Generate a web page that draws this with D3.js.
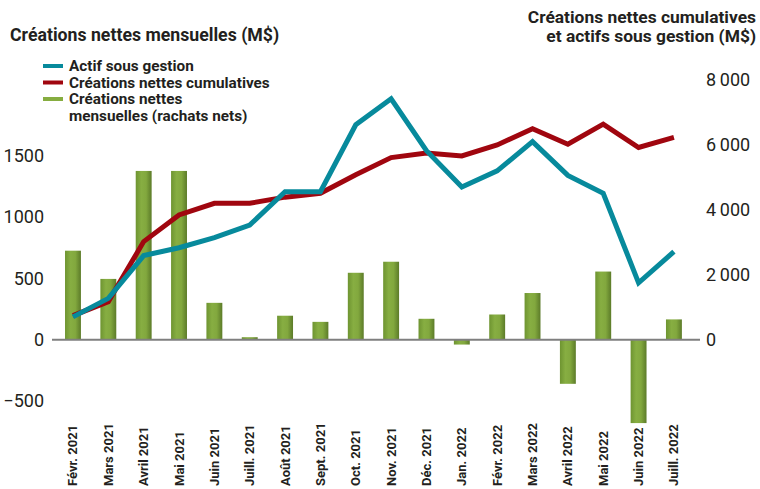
<!DOCTYPE html>
<html>
<head>
<meta charset="utf-8">
<script src="https://cdn.jsdelivr.net/npm/d3@7"></script>
<style>
  html, body { margin: 0; padding: 0; background: #fff; }
  svg { display: block; font-family: Roboto, "Open Sans", sans-serif; }
</style>
</head>
<body>
<svg id="chart" width="760" height="489"></svg>
<script>
// data
const months = ['Févr. 2021', 'Mars 2021', 'Avril 2021', 'Mai 2021', 'Juin 2021', 'Juill. 2021',
  'Août 2021', 'Sept. 2021', 'Oct. 2021', 'Nov. 2021', 'Déc. 2021', 'Jan. 2022',
  'Févr. 2022', 'Mars 2022', 'Avril 2022', 'Mai 2022', 'Juin 2022', 'Juill. 2022'];
const monthly = [725, 495, 1375, 1375, 300, 20, 195, 145, 545, 635, 170, -40,
  205, 380, -360, 555, -680, 165];
const cumulative = [740, 1170, 3020, 3840, 4200, 4200, 4390, 4510, 5080, 5610, 5750, 5660,
  6000, 6500, 6020, 6640, 5920, 6230];
const assets = [700, 1270, 2590, 2830, 3140, 3530, 4560, 4560, 6620, 7420, 5820, 4700,
  5200, 6100, 5060, 4510, 1750, 2710];
const leftTicks = [-500, 0, 500, 1000, 1500];
const rightTicks = [0, 2000, 4000, 6000, 8000];

const svg = d3.select('#chart');
const ink = '#231f20';
const teal = '#078a9c';
const red = '#a0060f';

// scales
const x = d3.scaleBand()
    .domain(months)
    .range([55.3, 691.6])
    .paddingInner(0.55)
    .paddingOuter(0.275);
const yL = d3.scaleLinear().domain([-500, 1500]).range([401, 155.6]);
const yR = d3.scaleLinear().domain([0, 8000]).range([339.6, 80]);
const cx = d => x(d) + x.bandwidth() / 2;

const fr = d3.formatLocale({decimal: ',', thousands: '\u2009', grouping: [3], currency: ['', ' $']});

// bar gradient
const defs = svg.append('defs');
const grad = defs.append('linearGradient').attr('id', 'barGrad')
    .attr('x1', '0').attr('x2', '1').attr('y1', '0').attr('y2', '0');
grad.append('stop').attr('offset', '0%').attr('stop-color', '#6e9431');
grad.append('stop').attr('offset', '35%').attr('stop-color', '#87ae42');
grad.append('stop').attr('offset', '65%').attr('stop-color', '#82a83e');
grad.append('stop').attr('offset', '100%').attr('stop-color', '#5c7b29');

// titles
svg.append('text')
    .attr('x', 10).attr('y', 41)
    .attr('fill', ink).attr('font-size', 17.7).attr('font-weight', 700)
    .text('Créations nettes mensuelles (M$)');
const rt = svg.append('text')
    .attr('text-anchor', 'end')
    .attr('fill', ink).attr('font-size', 17.4).attr('font-weight', 700);
rt.append('tspan').attr('x', 756).attr('y', 23).text('Créations nettes cumulatives');
rt.append('tspan').attr('x', 756).attr('y', 42).text('et actifs sous gestion (M$)');

// left axis
const gL = svg.append('g')
    .attr('transform', 'translate(44,0)')
    .call(d3.axisLeft(yL).tickValues(leftTicks).tickSize(0).tickPadding(0).tickFormat(d3.format('d')));
gL.select('.domain').remove();
gL.selectAll('text').attr('font-size', 18).attr('fill', ink).attr('font-family', 'Roboto, sans-serif');

// right axis
const gR = svg.append('g')
    .attr('transform', 'translate(706,0)')
    .call(d3.axisRight(yR).tickValues(rightTicks).tickSize(0).tickPadding(0).tickFormat(fr.format(',d')));
gR.select('.domain').remove();
gR.selectAll('text').attr('font-size', 18).attr('fill', ink).attr('font-family', 'Roboto, sans-serif');

// bars
svg.append('g').selectAll('rect')
    .data(monthly)
    .join('rect')
    .attr('x', (d, i) => x(months[i]))
    .attr('width', x.bandwidth())
    .attr('y', d => yL(Math.max(0, d)))
    .attr('height', d => Math.abs(yL(d) - yL(0)))
    .attr('fill', 'url(#barGrad)');

// zero line
svg.append('line')
    .attr('x1', 52).attr('x2', 700)
    .attr('y1', yL(0)).attr('y2', yL(0))
    .attr('stroke', '#7f7f7f').attr('stroke-width', 2);

// lines
const line = d3.line().x((d, i) => cx(months[i])).y(d => yR(d));
svg.append('path')
    .datum(cumulative)
    .attr('d', line)
    .attr('fill', 'none').attr('stroke', red).attr('stroke-width', 5)
    .attr('stroke-linejoin', 'miter');
svg.append('path')
    .datum(assets)
    .attr('d', line)
    .attr('fill', 'none').attr('stroke', teal).attr('stroke-width', 5)
    .attr('stroke-linejoin', 'miter');

// x labels
svg.append('g').selectAll('text')
    .data(months)
    .join('text')
    .attr('transform', d => 'translate(' + (cx(d) + 4.5) + ',486) rotate(-90)')
    .attr('text-anchor', 'start')
    .attr('fill', ink).attr('font-size', 13).attr('font-weight', 700)
    .text(d => d);

// legend
const legend = [
  {label: ['Actif sous gestion'], color: teal},
  {label: ['Créations nettes cumulatives'], color: red},
  {label: ['Créations nettes', 'mensuelles (rachats nets)'], color: '#86ad40'}
];
const lg = svg.append('g').attr('transform', 'translate(43,66)');
legend.forEach((d, i) => {
  const yy = i * 16.5;
  lg.append('line')
      .attr('x1', 0).attr('x2', 20).attr('y1', yy).attr('y2', yy)
      .attr('stroke', d.color).attr('stroke-width', 4);
  const t = lg.append('text')
      .attr('fill', ink).attr('font-size', 15.3).attr('font-weight', 700);
  d.label.forEach((s, j) => {
    t.append('tspan').attr('x', 26).attr('y', yy + 5 + j * 17).text(s);
  });
});
</script>
</body>
</html>
